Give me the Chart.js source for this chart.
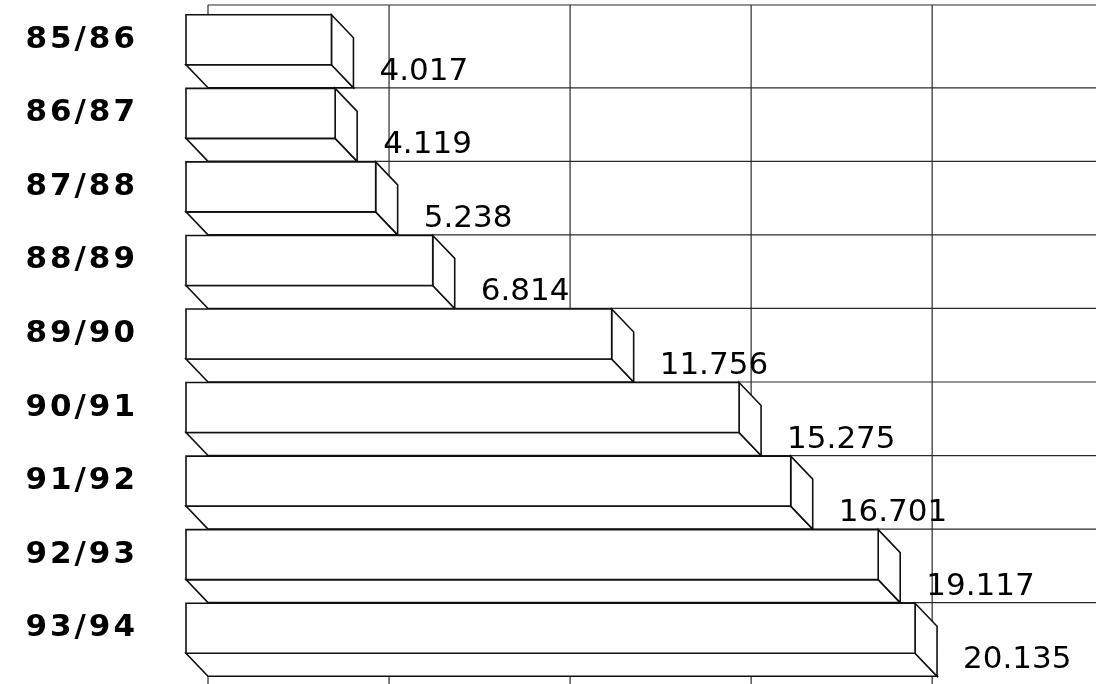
<!DOCTYPE html>
<html>
<head>
<meta charset="utf-8">
<script src="https://cdn.jsdelivr.net/npm/chart.js@4/dist/chart.umd.min.js"></script>
<style>
  html, body { margin: 0; padding: 0; background: #fff; }
  #wrap { width: 1096px; height: 684px; position: relative; }
</style>
</head>
<body>
<div id="wrap"><canvas id="myChart"></canvas></div>
<script>
const seasons = ['85/86', '86/87', '87/88', '88/89', '89/90', '90/91', '91/92', '92/93', '93/94'];
const values = [4.017, 4.119, 5.238, 6.814, 11.756, 15.275, 16.701, 19.117, 20.135];
const gridValues = [0, 5, 10, 15, 20];

// 3d depth of the boxes, back wall sits right/below the front faces
const depthX = 22;
const depthY = 23;
const ink = '#111';

function line(ctx, x1, y1, x2, y2) {
    ctx.beginPath();
    ctx.moveTo(x1, y1);
    ctx.lineTo(x2, y2);
    ctx.stroke();
}

function poly(ctx, pts) {
    ctx.beginPath();
    ctx.moveTo(pts[0][0], pts[0][1]);
    for (let i = 1; i < pts.length; i++) ctx.lineTo(pts[i][0], pts[i][1]);
    ctx.closePath();
    ctx.fill();
    ctx.stroke();
}

const boxes3d = {
    id: 'boxes3d',
    beforeDraw(chart) {
        // wide spaced category labels
        chart.ctx.letterSpacing = '3px';
    },
    beforeDatasetsDraw(chart) {
        const { ctx, chartArea, scales: { x } } = chart;
        ctx.letterSpacing = '0px';
        const meta = chart.getDatasetMeta(0);
        const left = x.getPixelForValue(0);
        const top = chartArea.top + 2;
        const right = chart.width;

        ctx.save();
        ctx.strokeStyle = '#2a2a2a';
        ctx.lineWidth = 1.2;
        line(ctx, left, top, right, top);
        gridValues.forEach(v => {
            const px = x.getPixelForValue(v);
            line(ctx, px, top, px, chart.height);
        });
        // floor lines on the back wall
        meta.data.forEach((bar, i) => {
            if (i === meta.data.length - 1) return;
            const p = bar.getProps(['y', 'height'], true);
            const yb = p.y + p.height / 2 + depthY;
            line(ctx, left, yb, right, yb);
        });
        ctx.restore();
    },
    afterDatasetsDraw(chart) {
        const { ctx } = chart;
        const meta = chart.getDatasetMeta(0);
        ctx.save();
        ctx.letterSpacing = '0px';
        ctx.fillStyle = '#fff';
        ctx.strokeStyle = ink;
        ctx.lineWidth = 1.6;
        ctx.lineJoin = 'miter';

        meta.data.forEach(bar => {
            const p = bar.getProps(['x', 'y', 'base', 'height'], true);
            const xb0 = p.base, xb1 = p.x;
            const xf0 = xb0 - depthX, xf1 = xb1 - depthX;
            const yt = p.y - p.height / 2, yb = p.y + p.height / 2;
            // bottom face
            poly(ctx, [[xf0, yb], [xf1, yb], [xb1, yb + depthY], [xb0, yb + depthY]]);
            // right face
            poly(ctx, [[xf1, yt], [xb1, yt + depthY], [xb1, yb + depthY], [xf1, yb]]);
            // front face
            poly(ctx, [[xf0, yt], [xf1, yt], [xf1, yb], [xf0, yb]]);
        });

        ctx.fillStyle = '#000';
        ctx.font = "31px 'DejaVu Sans'";
        ctx.textAlign = 'left';
        ctx.textBaseline = 'alphabetic';
        meta.data.forEach((bar, i) => {
            const p = bar.getProps(['x', 'y', 'height'], true);
            const yb = p.y + p.height / 2 + depthY;
            ctx.fillText(values[i].toFixed(3), p.x + 26, yb - 8);
        });
        ctx.restore();
    }
};

const data = {
    labels: seasons,
    datasets: [
        {
            data: values,
            backgroundColor: 'rgba(0,0,0,0)',
            borderWidth: 0,
            barThickness: 50
        }
    ]
};

const config = {
    type: 'bar',
    data: data,
    options: {
        indexAxis: 'y',
        responsive: true,
        maintainAspectRatio: false,
        animation: false,
        layout: {
            padding: { top: 3, bottom: 19, left: 0, right: 19 }
        },
        plugins: {
            legend: { display: false },
            tooltip: { enabled: false }
        },
        scales: {
            x: {
                display: false,
                min: 0,
                max: 24,
                ticks: { stepSize: 5 }
            },
            y: {
                grid: { display: false },
                border: { display: false },
                afterFit: function (scale) {
                    scale.width = 208;
                    // tick padding should not shrink the plot vertically
                    scale.paddingTop = 0;
                    scale.paddingBottom = 0;
                },
                ticks: {
                    color: '#000',
                    padding: 62,
                    font: {
                        family: "'DejaVu Sans'",
                        size: 31,
                        weight: 'bold'
                    }
                }
            }
        }
    },
    plugins: [boxes3d]
};

window.myChart = new Chart(document.getElementById('myChart'), config);
</script>
</body>
</html>
